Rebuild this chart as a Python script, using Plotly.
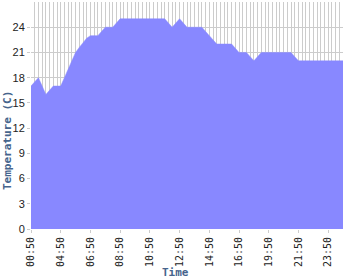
import plotly.graph_objects as go

# temperature readings (C), one per sample
temps = [17, 17.5, 18, 17, 16, 16.5, 17, 17, 17, 18, 19, 20, 21, 21.6, 22.2, 22.7,
         23, 23, 23, 23.5, 24, 24, 24, 24.5, 25, 25, 25, 25, 25, 25, 25, 25,
         25, 25, 25, 25, 25, 24.5, 24, 24.5, 25, 24.5, 24, 24, 24, 24, 24, 23.5,
         23, 22.5, 22, 22, 22, 22, 22, 21.5, 21, 21, 21, 20.5, 20, 20.5, 21, 21,
         21, 21, 21, 21, 21, 21, 21, 20.5, 20, 20, 20, 20, 20, 20, 20, 20,
         20, 20, 20, 20, 20]
tick_labels = ["00:50", "04:50", "06:50", "08:50", "10:50", "12:50",
               "14:50", "16:50", "19:50", "21:50", "23:50"]
tick_every = 8
y_ticks = [0, 3, 6, 9, 12, 15, 18, 21, 24]

x = list(range(len(temps)))
tickvals = list(range(0, len(temps), tick_every))[:len(tick_labels)]

fig = go.Figure()
fig.add_trace(go.Scatter(x=x, y=temps, mode="lines", fill="tozeroy",
                         fillcolor="#8888ff", line=dict(color="#8888ff", width=0.5),
                         hoverinfo="skip"))

W, H = 350, 280
L, R, T, B = 31, 7, 2, 51
pw, ph = W - L - R, H - T - B

fig.update_layout(
    width=W, height=H, margin=dict(l=L, r=R, t=T, b=B),
    paper_bgcolor="white", plot_bgcolor="white", showlegend=False,
    xaxis=dict(range=[0, len(temps) - 1], tickmode="array", tickvals=tickvals,
               ticktext=tick_labels, tickangle=-90, showgrid=True, gridcolor="#cccccc",
               gridwidth=1, zeroline=False, showline=False, ticks="outside",
               ticklen=3, tickcolor="#cccccc",
               tickfont=dict(family="DejaVu Sans Mono", size=10, color="#222222"),
               minor=dict(dtick=1, tick0=0, showgrid=True, gridcolor="#cccccc",
                          gridwidth=1, ticks="")),
    yaxis=dict(range=[0, 27], tickmode="array", tickvals=y_ticks, showgrid=True,
               gridcolor="#cccccc", gridwidth=1, zeroline=False, showline=False,
               ticks="outside", ticklen=3, tickcolor="#cccccc",
               tickfont=dict(family="Liberation Sans", size=11, color="#222222")),
)

title_font = dict(family="DejaVu Sans Mono", size=11, color="#46648c")
fig.add_annotation(text="<b>Temperature (C)</b>", textangle=-90, showarrow=False,
                   xref="paper", yref="paper", x=(7 - L) / pw, y=(T + ph - 141) / ph,
                   xanchor="center", yanchor="middle", font=title_font)
fig.add_annotation(text="<b>Time</b>", showarrow=False,
                   xref="paper", yref="paper", x=(175 - L) / pw, y=(T + ph - 272) / ph,
                   xanchor="center", yanchor="middle", font=title_font)

fig.write_html("out.html")
